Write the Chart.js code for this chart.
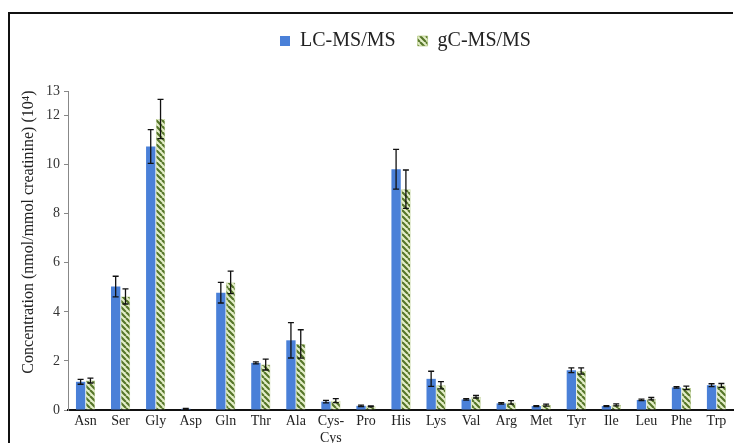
<!DOCTYPE html>
<html>
<head>
<meta charset="utf-8">
<script src="https://cdn.jsdelivr.net/npm/chart.js@4"></script>
<style>
  html, body { margin: 0; padding: 0; background: #fff; }
  #wrap { width: 734px; height: 443px; }
</style>
</head>
<body>
<div id="wrap"><canvas id="aminoChart" width="734" height="443"></canvas></div>
<script>
const categories = ["Asn", "Ser", "Gly", "Asp", "Gln", "Thr", "Ala", ["Cys-", "Cys"], "Pro", "His",
  "Lys", "Val", "Arg", "Met", "Tyr", "Ile", "Leu", "Phe", "Trp"];

const lcValues = [1.15, 5.03, 10.74, 0.05, 4.78, 1.92, 2.84, 0.34, 0.17, 9.81,
  1.27, 0.43, 0.27, 0.16, 1.62, 0.16, 0.41, 0.92, 1.01];
const lcErrors = [0.1, 0.42, 0.69, 0.02, 0.42, 0.04, 0.72, 0.05, 0.03, 0.81,
  0.31, 0.03, 0.03, 0.02, 0.1, 0.02, 0.03, 0.03, 0.06];

const gcValues = [1.2, 4.63, 11.86, 0, 5.2, 1.85, 2.69, 0.38, 0.15, 9.0,
  1.01, 0.54, 0.31, 0.2, 1.59, 0.21, 0.46, 0.9, 1.0];
const gcErrors = [0.1, 0.31, 0.8, 0, 0.46, 0.22, 0.58, 0.08, 0.02, 0.78,
  0.15, 0.05, 0.07, 0.04, 0.13, 0.04, 0.05, 0.07, 0.08];

const yTicks = [0, 2, 4, 6, 8, 10, 12, 13];
const yTitle = "Concentration (nmol/mmol creatinine) (10⁴)";

const serif = "'Liberation Serif', 'Times New Roman', serif";

// diagonal hatch for the gC-MS/MS bars
function makeHatch() {
  const size = 6;
  const c = document.createElement("canvas");
  c.width = size;
  c.height = size;
  const g = c.getContext("2d");
  g.fillStyle = "#e4eec8";
  g.fillRect(0, 0, size, size);
  g.strokeStyle = "#56762a";
  g.lineWidth = 2.2;
  g.beginPath();
  for (let k = -1; k <= 1; k++) {
    g.moveTo(k * size, 0);
    g.lineTo(k * size + size, size);
  }
  g.stroke();
  return g.createPattern(c, "repeat");
}
const hatch = makeHatch();

const errorBars = {
  id: "errorBars",
  afterDatasetsDraw(chart) {
    const ctx = chart.ctx;
    const y = chart.scales.y;
    const errs = [lcErrors, gcErrors];
    ctx.save();
    ctx.strokeStyle = "#111";
    ctx.lineWidth = 1.3;
    chart.data.datasets.forEach((ds, i) => {
      const meta = chart.getDatasetMeta(i);
      meta.data.forEach((bar, j) => {
        const e = errs[i][j];
        if (!e) return;
        const v = ds.data[j];
        const top = y.getPixelForValue(v + e);
        const bot = y.getPixelForValue(v - e);
        ctx.beginPath();
        ctx.moveTo(bar.x, top);
        ctx.lineTo(bar.x, bot);
        ctx.moveTo(bar.x - 3, top);
        ctx.lineTo(bar.x + 3, top);
        ctx.moveTo(bar.x - 3, bot);
        ctx.lineTo(bar.x + 3, bot);
        ctx.stroke();
      });
    });
    ctx.restore();
  },
};

// extra room under the legend, and legend centred over the plot
const legendGap = {
  id: "legendGap",
  beforeInit(chart) {
    const fit = chart.legend.fit;
    chart.legend.fit = function () {
      fit.call(this);
      this.height += 30;
    };
  },
  afterLayout(chart) {
    chart.legend.left += 34;
    chart.legend.right += 34;
  },
};

// frame and the y-axis title
const frame = {
  id: "frame",
  beforeDraw(chart) {
    const ctx = chart.ctx;
    ctx.save();
    ctx.fillStyle = "#fff";
    ctx.fillRect(0, 0, chart.width, chart.height);
    ctx.strokeStyle = "#111";
    ctx.lineWidth = 2;
    ctx.beginPath();
    ctx.moveTo(9, chart.height);
    ctx.lineTo(9, 13);
    ctx.lineTo(733, 13);
    ctx.stroke();
    ctx.restore();
  },
  afterDraw(chart) {
    const ctx = chart.ctx;
    ctx.save();
    ctx.translate(29, 232);
    ctx.rotate(-Math.PI / 2);
    ctx.fillStyle = "#222";
    ctx.font = "16px " + serif;
    ctx.textAlign = "center";
    ctx.textBaseline = "middle";
    ctx.fillText(yTitle, 0, 0);
    ctx.restore();
  },
};

new Chart(document.getElementById("aminoChart"), {
  type: "bar",
  data: {
    labels: categories,
    datasets: [
      {
        label: "LC-MS/MS",
        data: lcValues,
        backgroundColor: "#4a80d8",
        borderWidth: 0,
        categoryPercentage: 0.56,
        barPercentage: 0.95,
      },
      {
        label: "gC-MS/MS",
        data: gcValues,
        backgroundColor: hatch,
        borderColor: "#a8c070",
        borderWidth: 0.6,
        categoryPercentage: 0.56,
        barPercentage: 0.95,
      },
    ],
  },
  options: {
    responsive: false,
    animation: false,
    layout: { padding: { top: 9, left: 9, right: 0, bottom: 0 } },
    plugins: {
      legend: {
        display: true,
        position: "top",
        labels: {
          boxWidth: 10,
          boxHeight: 10,
          padding: 22,
          color: "#222",
          font: { family: serif, size: 20 },
        },
      },
      tooltip: { enabled: false },
    },
    scales: {
      x: {
        grid: { display: false, drawTicks: false },
        border: { color: "#111", width: 2 },
        ticks: {
          color: "#222",
          font: { family: serif, size: 14 },
          padding: 3,
          maxRotation: 0,
          autoSkip: false,
        },
        afterFit(scale) { scale.height = 33; },
      },
      y: {
        min: 0,
        max: 13,
        afterBuildTicks(scale) {
          scale.ticks = yTicks.map((v) => ({ value: v }));
        },
        grid: { drawOnChartArea: false, drawTicks: true, tickLength: 4, color: "#888" },
        border: { color: "#888", width: 1 },
        ticks: {
          color: "#333",
          font: { family: serif, size: 14 },
          padding: 4,
        },
        afterFit(scale) { scale.width = 59; },
      },
    },
  },
  plugins: [frame, legendGap, errorBars],
});
</script>
</body>
</html>
